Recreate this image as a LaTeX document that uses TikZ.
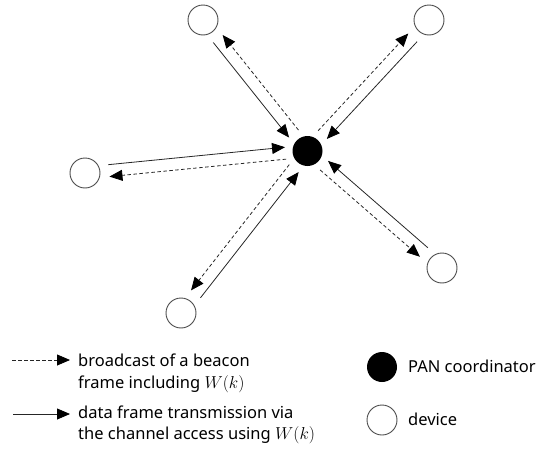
\documentclass[tikz,border=0pt]{standalone}
\usepackage{fontspec}
\setmainfont{Noto Sans}
\usetikzlibrary{arrows.meta,calc}
\begin{document}
\begin{tikzpicture}[x=1pt,y=-1pt,
  dev/.style={circle,draw=black!70,line width=0.9pt,fill=white,minimum size=30pt,inner sep=0pt},
  pan/.style={circle,fill=black,minimum size=30pt,inner sep=0pt},
  tip/.style={-{Triangle[length=13pt,width=11pt,color=black,fill=black]}},
  datal/.style={draw=black!85,line width=0.8pt,tip},
  beacon/.style={draw=black!85,line width=0.8pt,dash pattern=on 3.5pt off 2.5pt,tip},
  lbl/.style={anchor=base west,align=left,inner sep=0pt,font=\fontsize{16.5}{21.5}\selectfont}]
\useasboundingbox (0,0) rectangle (558,450);
\node[pan] (c) at (307.5,151) {};
\node[dev] (tl) at (203,20) {};
\node[dev] (tr) at (429,20) {};
\node[dev] (l) at (85,173) {};
\node[dev] (bl) at (181,313) {};
\node[dev] (br) at (442,268) {};
\foreach \d/\s in {tl/-1,tr/1,l/1,bl/-1,br/-1}{
  \coordinate (p1) at ($(\d)!24pt!(c)$);
  \coordinate (p2) at ($(c)!22pt!(\d)$);
  \draw[datal] ($(p1)!\s*6pt!90:(c)$) -- ($(p2)!\s*6pt!-90:(\d)$);
  \draw[beacon] ($(p2)!\s*6pt!90:(\d)$) -- ($(p1)!\s*6pt!-90:(c)$);
}
% legend
\coordinate (b0) at (12,360);
\coordinate (b1) at (70,360);
\coordinate (d0) at (13,414);
\coordinate (d1) at (70,414);
\draw[beacon] (b0) -- (b1);
\draw[datal] (d0) -- (d1);
\node[lbl] (tb) at (78,388) {broadcast of a beacon\\frame including $W(k)$};
\node[lbl] (td) at (78,439.5) {data frame transmission via\\the channel access using $W(k)$};
\node[pan] (lp) at (382,367) {};
\node[dev] (ld) at (382,420) {};
\node[lbl] (tp) at (408,372) {PAN coordinator};
\node[lbl] (tdv) at (408,425) {device};
\end{tikzpicture}
\end{document}
